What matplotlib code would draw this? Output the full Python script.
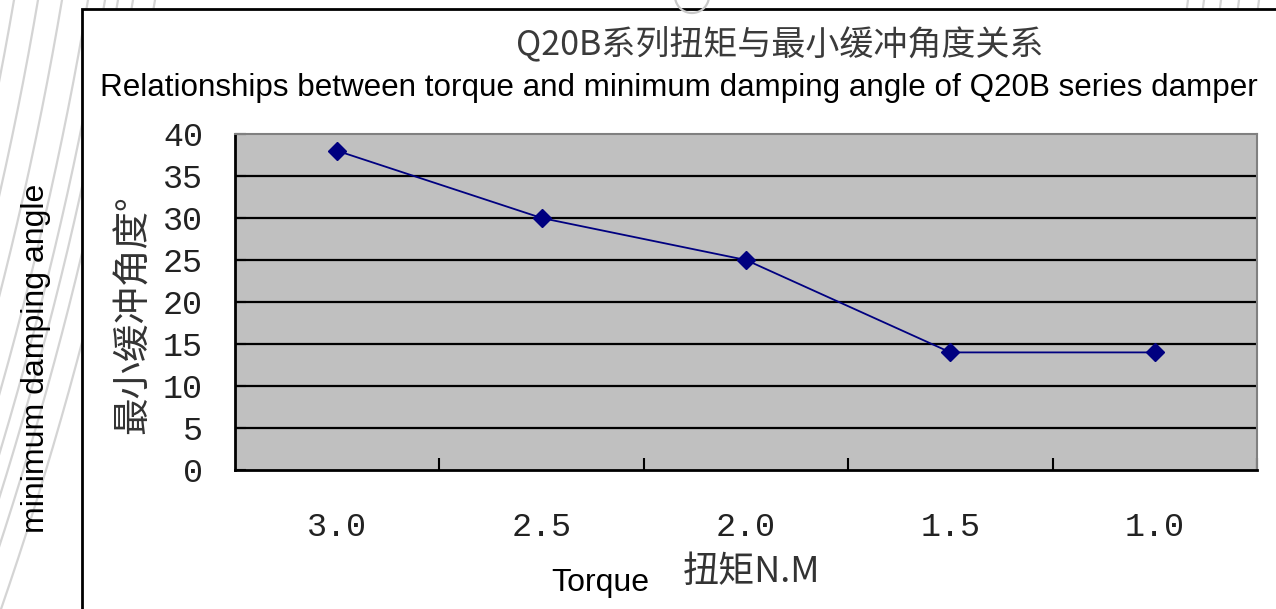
import numpy as np
import matplotlib
matplotlib.use("Agg")
import matplotlib.pyplot as plt
from matplotlib.patches import Rectangle

# ---- data ----
torque_labels = ["3.0", "2.5", "2.0", "1.5", "1.0"]
min_angle = [38, 30, 25, 14, 14]
y_ticks = [0, 5, 10, 15, 20, 25, 30, 35, 40]

title_cn = "Q20B系列扭矩与最小缓冲角度关系"
title_en = "Relationships between torque and minimum damping angle of Q20B series damper"
ylabel_cn = "最小缓冲角度°"
ylabel_en = "minimum damping angle"
xlabel_cn = "扭矩N.M"
xlabel_en = "Torque"

W, H = 1276, 609
fig = plt.figure(figsize=(W / 100, H / 100), dpi=100)
fig.patch.set_facecolor("white")

# background (pixel coordinates)
bg = fig.add_axes([0, 0, 1, 1], zorder=0)
bg.set_xlim(0, W)
bg.set_ylim(H, 0)
bg.axis("off")

cx, cy = -3500.0, -600.0
for x0 in [-90, -62, -35, -8, 14, 38, 62, 88, 105, 118, 133, 155,
           1188, 1204, 1221, 1239, 1259]:
    r = np.hypot(x0 - cx, cy)
    ys = np.linspace(-5, H + 5, 200)
    xs = cx + np.sqrt(r ** 2 - (ys - cy) ** 2)
    bg.plot(xs, ys, color="#d4d4d4", lw=1.6, zorder=1)

# outer white box
bg.add_patch(Rectangle((82, 9), W, H, facecolor="white", edgecolor="black",
                       lw=2, zorder=2))
th = np.linspace(0, np.pi, 60)
bg.plot(692 + 17 * np.cos(th), -4 + 17 * np.sin(th), color="#c8c8c8", lw=1.6, zorder=3)

cjk = ["Noto Sans CJK SC", "DejaVu Sans"]
bg.text(780, 46, title_cn, ha="center", va="center", fontsize=24.5,
        family=cjk, color="#3a3a3a", zorder=4)
bg.text(100, 88, title_en, ha="left", va="center", fontsize=22.6,
        family="Liberation Sans", color="black", zorder=4)
bg.text(36, 358, ylabel_en, ha="center", va="center", rotation=90,
        fontsize=23, family="Liberation Sans", color="black", zorder=4)
bg.text(133, 315, ylabel_cn, ha="center", va="center", rotation=90,
        fontsize=27, family=cjk, color="#333333", zorder=4)
bg.text(600, 583, xlabel_en, ha="center", va="center", fontsize=23,
        family="Liberation Sans", color="black", zorder=4)
bg.text(752, 572, xlabel_cn, ha="center", va="center", fontsize=26,
        family=cjk, color="#333333", zorder=4)

# main axes
L, R, T, B = 235, 1257, 134, 470
ax = fig.add_axes([L / W, 1 - B / H, (R - L) / W, (B - T) / H], zorder=2)
ax.set_facecolor("#c0c0c0")
x = np.arange(len(torque_labels))
ax.plot(x, min_angle, color="#000080", lw=1.3, marker="D", ms=9.5,
        mfc="#000080", mec="#000080", zorder=3)

ax.set_xlim(-0.5, len(torque_labels) - 0.5)
ax.set_ylim(0, 40)
ax.set_yticks(y_ticks)
ax.set_xticks(x)
ax.set_xticklabels(torque_labels)
ax.set_xticks(np.arange(0.5, len(torque_labels), 1.0), minor=True)

ax.yaxis.grid(True, color="black", lw=1.6)
ax.set_axisbelow(True)
gl = ax.get_ygridlines()
gl[0].set_visible(False)
gl[-1].set_visible(False)

for s in ["left", "bottom"]:
    ax.spines[s].set_color("black")
    ax.spines[s].set_linewidth(2)
for s in ["top", "right"]:
    ax.spines[s].set_color("#808080")
    ax.spines[s].set_linewidth(1.5)

ax.tick_params(axis="y", direction="in", length=8, width=1.5, pad=23,
               labelsize=24, labelcolor="#222222")
ax.tick_params(axis="x", which="major", length=0, pad=30,
               labelsize=24, labelcolor="#222222")
ax.tick_params(axis="x", which="minor", direction="in", length=9, width=1.5)
for lab in ax.get_xticklabels() + ax.get_yticklabels():
    lab.set_family("Liberation Mono")

fig.savefig("out.png", dpi=100)
